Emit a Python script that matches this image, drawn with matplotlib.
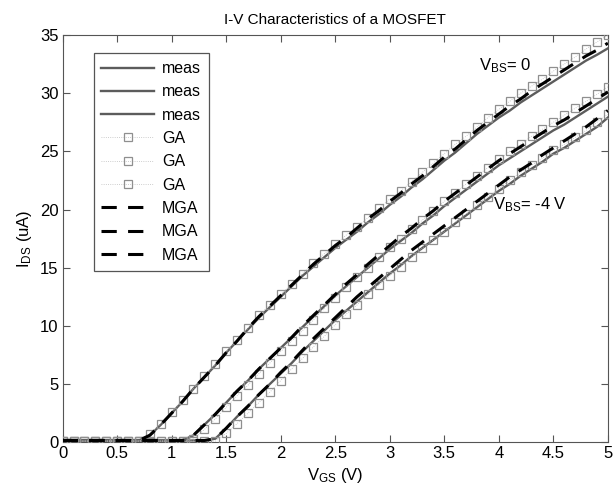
import numpy as np
import matplotlib
matplotlib.use("Agg")
from matplotlib import pyplot as plt

plt.rcParams['font.family'] = ['Liberation Sans', 'DejaVu Sans']

# gate voltage grid (V), 0.1 V steps
vgs = np.round(np.arange(51) * 0.1, 1)

# measured I_DS (uA), three body biases
meas_0 = [0.15, 0.15, 0.15, 0.15, 0.15, 0.15, 0.15, 0.15, 0.6, 1.5,
          2.5, 3.5, 4.6, 5.6, 6.6, 7.7, 8.7, 9.7, 10.7, 11.6,
          12.5, 13.4, 14.3, 15.1, 15.9, 16.7, 17.4, 18.1, 18.9, 19.6,
          20.4, 21.1, 21.9, 22.6, 23.4, 24.2, 24.9, 25.7, 26.5, 27.2,
          27.9, 28.5, 29.2, 29.8, 30.4, 31.0, 31.6, 32.2, 32.8, 33.3, 33.85]
meas_2 = [0.15, 0.15, 0.15, 0.15, 0.15, 0.15, 0.15, 0.15, 0.15, 0.15,
          0.15, 0.15, 0.6, 1.5, 2.4, 3.4, 4.4, 5.3, 6.3, 7.2,
          8.1, 9.0, 9.9, 10.8, 11.7, 12.6, 13.4, 14.2, 15.0, 15.8,
          16.6, 17.3, 18.0, 18.8, 19.5, 20.3, 21.0, 21.7, 22.4, 23.1,
          23.8, 24.4, 25.0, 25.6, 26.2, 26.8, 27.3, 27.9, 28.5, 29.1, 29.7]
meas_4 = [0.15, 0.15, 0.15, 0.15, 0.15, 0.15, 0.15, 0.15, 0.15, 0.15,
          0.15, 0.15, 0.15, 0.15, 0.3, 1.2, 2.2, 3.1, 4.1, 5.0,
          5.9, 6.8, 7.8, 8.7, 9.6, 10.5, 11.3, 12.1, 12.9, 13.7,
          14.5, 15.2, 16.0, 16.7, 17.4, 18.1, 18.8, 19.5, 20.2, 20.9,
          21.6, 22.2, 22.9, 23.5, 24.1, 24.8, 25.3, 25.9, 26.5, 27.1, 27.9]

# GA model
ga_0 = [0.1, 0.1, 0.1, 0.1, 0.1, 0.1, 0.1, 0.1, 0.7, 1.6,
        2.6, 3.6, 4.6, 5.7, 6.7, 7.8, 8.8, 9.8, 10.9, 11.8,
        12.7, 13.6, 14.5, 15.4, 16.2, 17.0, 17.8, 18.5, 19.3, 20.1,
        20.9, 21.6, 22.4, 23.2, 24.0, 24.8, 25.6, 26.3, 27.1, 27.9,
        28.6, 29.3, 30.0, 30.6, 31.2, 31.9, 32.5, 33.1, 33.8, 34.4, 35.0]
ga_2 = [0.1, 0.1, 0.1, 0.1, 0.1, 0.1, 0.1, 0.1, 0.1, 0.1,
        0.1, 0.1, 0.3, 1.1, 2.0, 3.0, 4.0, 4.9, 5.9, 6.8,
        7.8, 8.7, 9.6, 10.5, 11.5, 12.4, 13.3, 14.2, 15.0, 15.9,
        16.8, 17.5, 18.3, 19.1, 19.9, 20.7, 21.4, 22.2, 22.9, 23.6,
        24.3, 25.0, 25.6, 26.3, 26.9, 27.5, 28.1, 28.7, 29.3, 29.9, 30.55]
ga_4 = [0.1, 0.1, 0.1, 0.1, 0.1, 0.1, 0.1, 0.1, 0.1, 0.1,
        0.1, 0.1, 0.1, 0.1, 0.1, 0.75, 1.6, 2.5, 3.4, 4.3,
        5.3, 6.3, 7.2, 8.2, 9.1, 10.1, 11.0, 11.8, 12.7, 13.5,
        14.3, 15.1, 15.9, 16.7, 17.4, 18.1, 18.9, 19.6, 20.4, 21.1,
        21.8, 22.5, 23.2, 23.8, 24.4, 25.1, 25.6, 26.2, 26.8, 27.5, 28.2]

# MGA model
mga_0 = [0.15, 0.15, 0.15, 0.15, 0.15, 0.15, 0.15, 0.15, 0.6, 1.5,
         2.5, 3.5, 4.6, 5.6, 6.6, 7.7, 8.7, 9.8, 10.8, 11.7,
         12.6, 13.5, 14.4, 15.3, 16.1, 16.9, 17.6, 18.4, 19.2, 19.9,
         20.7, 21.4, 22.2, 22.9, 23.7, 24.5, 25.2, 26.0, 26.8, 27.5,
         28.2, 28.9, 29.5, 30.2, 30.8, 31.4, 32.0, 32.6, 33.2, 33.7, 34.3]
mga_2 = [0.15, 0.15, 0.15, 0.15, 0.15, 0.15, 0.15, 0.15, 0.15, 0.15,
         0.15, 0.15, 0.6, 1.5, 2.4, 3.4, 4.4, 5.3, 6.3, 7.2,
         8.1, 9.0, 10.0, 10.9, 11.8, 12.7, 13.6, 14.4, 15.3, 16.1,
         16.9, 17.7, 18.4, 19.2, 19.9, 20.7, 21.4, 22.1, 22.8, 23.5,
         24.2, 24.8, 25.4, 26.0, 26.6, 27.2, 27.7, 28.3, 28.9, 29.5, 30.1]
mga_4 = [0.15, 0.15, 0.15, 0.15, 0.15, 0.15, 0.15, 0.15, 0.15, 0.15,
         0.15, 0.15, 0.15, 0.15, 0.3, 1.2, 2.2, 3.1, 4.1, 5.0,
         6.0, 6.9, 7.9, 8.9, 9.8, 10.7, 11.6, 12.5, 13.3, 14.1,
         14.9, 15.7, 16.5, 17.2, 17.9, 18.6, 19.3, 20.0, 20.7, 21.4,
         22.1, 22.8, 23.4, 24.0, 24.7, 25.3, 25.9, 26.5, 27.1, 27.8, 28.5]

fig = plt.figure(figsize=(6.14, 4.93), dpi=100)
ax = fig.add_axes([0.102, 0.103, 0.888, 0.826])

for y in (meas_0, meas_2, meas_4):
    ax.plot(vgs, y, color='#5c5c5c', lw=1.7, label='meas', zorder=2)
for y in (ga_0, ga_2, ga_4):
    ax.plot(vgs, y, color='#bdbdbd', lw=0.6, ls=':', marker='s', ms=5.5,
            mfc='none', mec='#8f8f8f', mew=0.9, label='GA', zorder=3)
for y in (mga_0, mga_2, mga_4):
    ax.plot(vgs, y, color='black', lw=2.2, dashes=(5, 3.7), label='MGA', zorder=4)

ax.set_xlim(0, 5)
ax.set_ylim(0, 35)
ax.set_xticks(np.arange(0, 5.01, 0.5))
ax.set_xticklabels(['0', '0.5', '1', '1.5', '2', '2.5', '3', '3.5', '4', '4.5', '5'])
ax.set_yticks(np.arange(0, 36, 5))
ax.tick_params(direction='in', top=True, right=True, labelsize=12,
               color='#555555', length=5, pad=3)
for s in ax.spines.values():
    s.set_color('#555555')

ax.set_title('I-V Characteristics of a MOSFET', fontsize=11, pad=8)
ax.set_xlabel(r'$\mathregular{V_{GS}}$ (V)', fontsize=12, labelpad=3)
ax.set_ylabel(r'$\mathregular{I_{DS}}$ (uA)', fontsize=12, labelpad=4)

ax.text(3.82, 32.0, r'$\mathregular{V_{BS}}$= 0', fontsize=12)
ax.text(3.95, 20.0, r'$\mathregular{V_{BS}}$= -4 V', fontsize=12)

leg = ax.legend(loc='upper left', bbox_to_anchor=(0.042, 0.975), fontsize=11.5,
                handlelength=3.3, handletextpad=0.5, labelspacing=0.52,
                borderpad=0.5, fancybox=False, framealpha=1)
leg.get_frame().set_edgecolor('#555555')
leg.get_frame().set_linewidth(0.9)

fig.savefig('out.png', dpi=100)
